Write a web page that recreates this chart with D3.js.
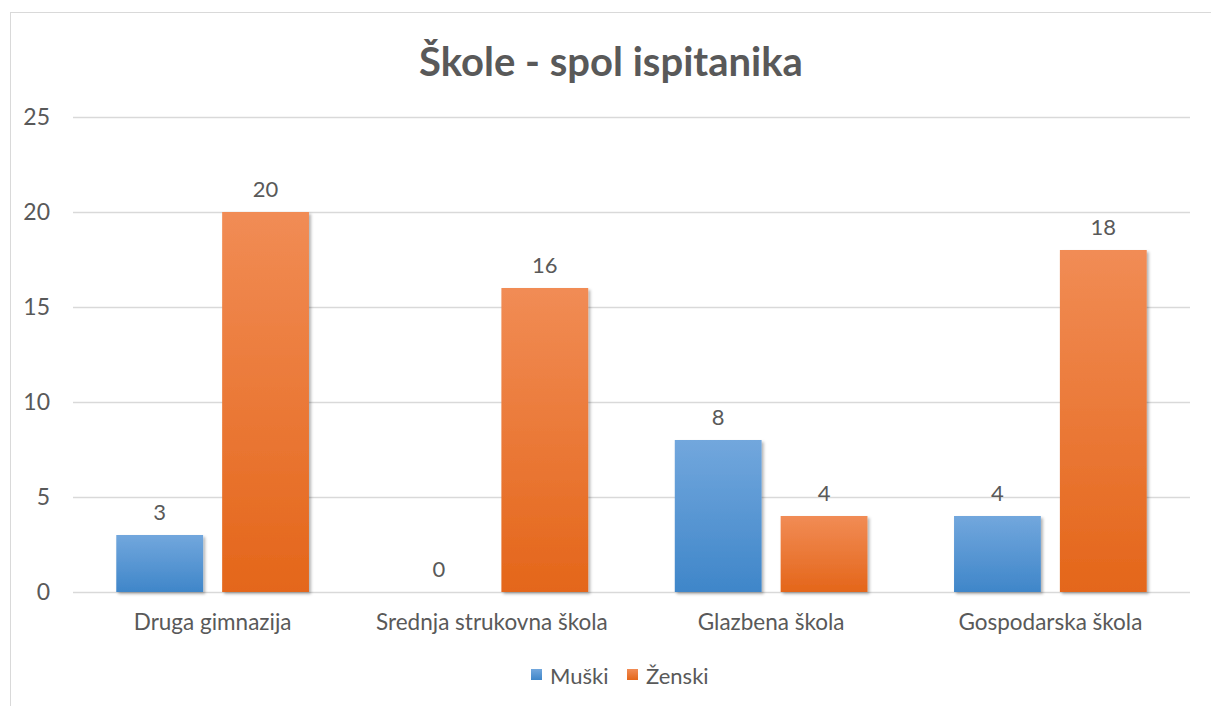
<!DOCTYPE html>
<html>
<head>
<meta charset="utf-8">
<script src="https://cdn.jsdelivr.net/npm/d3@7"></script>
<style>
  body { margin: 0; background: #fff; }
  text { font-family: Lato, "Open Sans", sans-serif; fill: #595959; }
</style>
</head>
<body>
<div id="chart"></div>
<script>
// data
var categories = ["Druga gimnazija", "Srednja strukovna škola", "Glazbena škola", "Gospodarska škola"];
var seriesNames = ["Muški", "Ženski"];
var muski = [3, 0, 8, 4];
var zenski = [20, 16, 4, 18];
var yTicks = [0, 5, 10, 15, 20, 25];

var W = 1211, H = 706;
var margin = {top: 117, right: 21, bottom: 114, left: 73};
var width = W - margin.left - margin.right,
    height = H - margin.top - margin.bottom;

var svg = d3.select("#chart").append("svg")
    .attr("width", W)
    .attr("height", H);

// gradients + shadow
var defs = svg.append("defs");
function grad(id, top, bottom) {
    var g = defs.append("linearGradient").attr("id", id)
        .attr("x1", 0).attr("y1", 0).attr("x2", 0).attr("y2", 1);
    g.append("stop").attr("offset", "0%").attr("stop-color", top);
    g.append("stop").attr("offset", "100%").attr("stop-color", bottom);
}
grad("gBlue", "#72a7dd", "#3f86c9");
grad("gOrange", "#f18c55", "#e4661a");
var f = defs.append("filter").attr("id", "shadow")
    .attr("x", "-10%").attr("y", "-10%").attr("width", "130%").attr("height", "130%");
f.append("feDropShadow").attr("dx", 2).attr("dy", 2).attr("stdDeviation", 1.5)
    .attr("flood-color", "#000").attr("flood-opacity", 0.3);

// chart border
svg.append("rect")
    .attr("x", 10.5).attr("y", 12.5)
    .attr("width", W).attr("height", H)
    .attr("fill", "none").attr("stroke", "#d9d9d9");

// title
svg.append("text")
    .attr("x", 611).attr("y", 76)
    .attr("text-anchor", "middle")
    .style("font-size", "40px").style("font-weight", "bold")
    .text("Škole - spol ispitanika");

var g = svg.append("g").attr("transform", "translate(" + margin.left + "," + margin.top + ")");

var x0 = d3.scaleBand().domain(categories).range([0, width]).paddingInner(0.31).paddingOuter(0.155);
var x1 = d3.scaleBand().domain(seriesNames).range([0, x0.bandwidth()]).paddingInner(0.18);
var y = d3.scaleLinear().domain([0, 25]).range([height, 0]);

// gridlines
g.selectAll("line.grid").data(yTicks).enter().append("line")
    .attr("class", "grid")
    .attr("x1", 0).attr("x2", width)
    .attr("y1", function(d) { return y(d) + 0.5; })
    .attr("y2", function(d) { return y(d) + 0.5; })
    .attr("stroke", "#d9d9d9").attr("stroke-width", 1.3);

// y axis labels
var yAxis = d3.axisLeft(y).tickValues(yTicks).tickSize(0).tickPadding(23);
var ya = g.append("g").call(yAxis);
ya.select(".domain").remove();
ya.selectAll("text").style("font-size", "23px").style("fill", "#595959").style("font-family", "Lato, sans-serif");

// bars
var fills = {"Muški": "url(#gBlue)", "Ženski": "url(#gOrange)"};
var rows = categories.map(function(c, i) {
    return [{cat: c, s: "Muški", v: muski[i]}, {cat: c, s: "Ženski", v: zenski[i]}];
});
var groups = g.selectAll("g.cat").data(rows).enter().append("g")
    .attr("class", "cat")
    .attr("transform", function(d) { return "translate(" + x0(d[0].cat) + ",0)"; });

groups.selectAll("rect").data(function(d) { return d; }).enter().append("rect")
    .attr("x", function(d) { return x1(d.s); })
    .attr("y", function(d) { return y(d.v); })
    .attr("width", x1.bandwidth())
    .attr("height", function(d) { return height - y(d.v); })
    .attr("fill", function(d) { return fills[d.s]; })
    .attr("filter", function(d) { return d.v > 0 ? "url(#shadow)" : null; });

// data labels
groups.selectAll("text.lbl").data(function(d) { return d; }).enter().append("text")
    .attr("class", "lbl")
    .attr("x", function(d) { return x1(d.s) + x1.bandwidth() / 2; })
    .attr("y", function(d) { return y(d.v) - 15; })
    .attr("text-anchor", "middle")
    .style("font-size", "22px")
    .text(function(d) { return d.v; });

// category labels
var xAxis = d3.axisBottom(x0).tickSize(0).tickPadding(22);
var xa = g.append("g").attr("transform", "translate(0," + height + ")").call(xAxis);
xa.select(".domain").remove();
xa.selectAll("text").style("font-size", "22.5px").style("fill", "#595959").style("font-family", "Lato, sans-serif");

// legend
var legend = svg.append("g").attr("transform", "translate(531,666)");
var lx = [0, 96];
seriesNames.forEach(function(s, i) {
    var lg = legend.append("g").attr("transform", "translate(" + lx[i] + ",0)");
    lg.append("rect").attr("width", 11).attr("height", 11).attr("y", 3)
        .attr("fill", fills[s]);
    lg.append("text").attr("x", 19).attr("y", 18)
        .style("font-size", "22px").text(s);
});
</script>
</body>
</html>
